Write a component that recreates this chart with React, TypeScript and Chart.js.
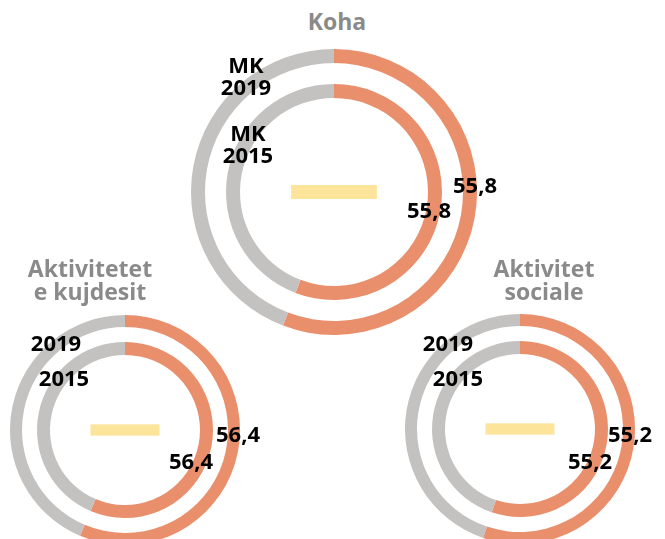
import React, { useEffect, useRef } from "react";
import { Chart, registerables } from "chart.js";

Chart.register(...registerables);

// ---- data ----
const categories = ["Koha", "Aktivitetet\ne kujdesit", "Aktivitet\nsociale"];
const values2019 = [55.8, 56.4, 55.2];
const values2015 = [55.8, 56.4, 55.2];
const yearLabels2019 = ["MK\n2019", "2019", "2019"];
const yearLabels2015 = ["MK\n2015", "2015", "2015"];
const valueLabels2019 = ["55,8", "56,4", "55,2"];
const valueLabels2015 = ["55,8", "56,4", "55,2"];

// ---- styling / layout ----
const ORANGE = "#E98F6C";
const GREY = "#C3C2C0";
const YELLOW = "#FCE59B";
const TITLE_GREY = "#8A8A8A";
const FONT = "'Open Sans', 'Noto Sans', sans-serif";

type Layout = {
  cx: number;
  cy: number;
  r: number;
  weights: [number, number, number];
  title: { x: number; top: number };
  y19: { x: number; top: number };
  y15: { x: number; top: number };
  v19: { x: number; top: number };
  v15: { x: number; top: number };
};

const layouts: Layout[] = [
  {
    cx: 334, cy: 192, r: 143, weights: [14, 21, 14],
    title: { x: 337, top: 10 },
    y19: { x: 246, top: 53 },
    y15: { x: 248, top: 121 },
    v19: { x: 475, top: 173 },
    v15: { x: 429, top: 198 },
  },
  {
    cx: 125, cy: 430, r: 115, weights: [12, 15, 13],
    title: { x: 90, top: 257 },
    y19: { x: 56, top: 331 },
    y15: { x: 64, top: 366 },
    v19: { x: 238, top: 422 },
    v15: { x: 191, top: 449 },
  },
  {
    cx: 520, cy: 429, r: 115, weights: [12, 15, 13],
    title: { x: 544, top: 257 },
    y19: { x: 448, top: 331 },
    y15: { x: 458, top: 366 },
    v19: { x: 630, top: 422 },
    v15: { x: 590, top: 449 },
  },
];

const centerBarPlugin = {
  id: "centerBar",
  afterDatasetsDraw(chart: any) {
    const arc: any = chart.getDatasetMeta(0).data[0];
    if (!arc) return;
    const r = arc.outerRadius;
    const w = r * 0.6;
    const h = r * 0.098;
    const ctx = chart.ctx;
    ctx.save();
    ctx.fillStyle = YELLOW;
    ctx.fillRect(arc.x - w / 2, arc.y - h / 2, w, h);
    ctx.restore();
  },
};

function Donut({ v19, v15, layout }: { v19: number; v15: number; layout: Layout }) {
  const ref = useRef<HTMLCanvasElement | null>(null);
  useEffect(() => {
    if (!ref.current) return;
    const [wo, wg, wi] = layout.weights;
    const total = wo + wg + wi;
    const cutout = ((layout.r - total) / layout.r) * 100 + "%";
    const chart = new Chart(ref.current, {
      type: "doughnut",
      data: {
        labels: ["value", "rest"],
        datasets: [
          { data: [v19, 100 - v19], backgroundColor: [ORANGE, GREY], borderWidth: 0, weight: wo } as any,
          { data: [100], backgroundColor: ["rgba(0,0,0,0)"], borderWidth: 0, weight: wg } as any,
          { data: [v15, 100 - v15], backgroundColor: [ORANGE, GREY], borderWidth: 0, weight: wi } as any,
        ],
      },
      options: {
        responsive: false,
        animation: false,
        cutout,
        events: [],
        layout: { padding: 0 },
        plugins: { legend: { display: false }, tooltip: { enabled: false } },
      } as any,
      plugins: [centerBarPlugin],
    });
    return () => chart.destroy();
  }, [v19, v15, layout]);
  const size = layout.r * 2;
  return (
    <canvas
      ref={ref}
      width={size}
      height={size}
      style={{ position: "absolute", left: layout.cx - layout.r, top: layout.cy - layout.r, width: size, height: size }}
    />
  );
}

function Label({ text, x, top, size, color, lh }: { text: string; x: number; top: number; size: number; color: string; lh: number }) {
  return (
    <div
      style={{
        position: "absolute",
        left: x,
        top,
        transform: "translateX(-50%)",
        fontFamily: FONT,
        fontWeight: 700,
        fontSize: size,
        lineHeight: lh + "px",
        color,
        whiteSpace: "pre",
        textAlign: "center",
      }}
    >
      {text}
    </div>
  );
}

export default function App() {
  return (
    <div style={{ position: "absolute", left: 0, top: 0, width: 665, height: 539, background: "#fff", overflow: "hidden" }}>
      {categories.map((c, i) => (
        <Donut key={"d" + i} v19={values2019[i]} v15={values2015[i]} layout={layouts[i]} />
      ))}
      {categories.map((c, i) => {
        const L = layouts[i];
        return (
          <React.Fragment key={"t" + i}>
            <Label text={c} x={L.title.x} top={L.title.top} size={23} color={TITLE_GREY} lh={23} />
            <Label text={yearLabels2019[i]} x={L.y19.x} top={L.y19.top} size={22} color="#000" lh={22} />
            <Label text={yearLabels2015[i]} x={L.y15.x} top={L.y15.top} size={22} color="#000" lh={22} />
            <Label text={valueLabels2019[i]} x={L.v19.x} top={L.v19.top} size={22} color="#000" lh={22} />
            <Label text={valueLabels2015[i]} x={L.v15.x} top={L.v15.top} size={22} color="#000" lh={22} />
          </React.Fragment>
        );
      })}
    </div>
  );
}
